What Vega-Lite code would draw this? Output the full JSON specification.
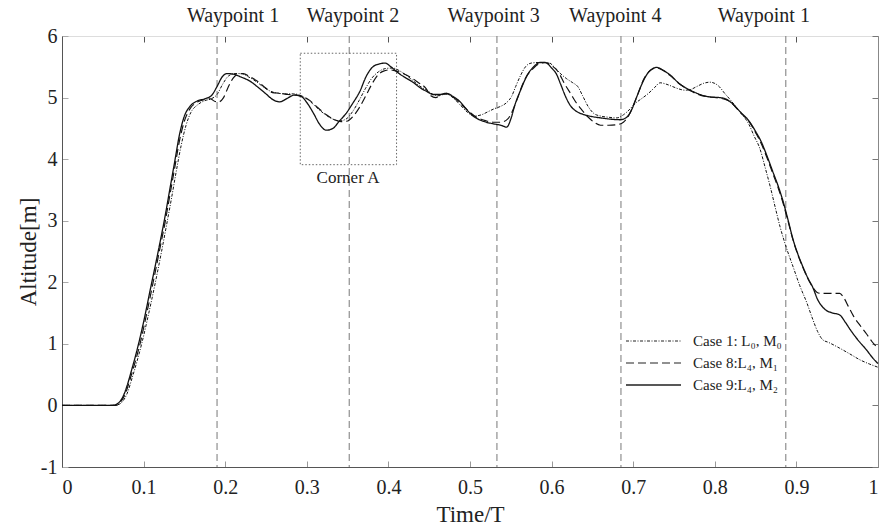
{
  "$schema": "https://vega.github.io/schema/vega-lite/v6.json",
  "width": 816,
  "height": 431,
  "autosize": {"type": "none"},
  "padding": {"left": 62, "top": 36, "right": 3, "bottom": 62},
  "background": "white",
  "config": {
    "view": {"stroke": null},
    "font": "Liberation Serif",
    "axis": {"labelFont": "Liberation Serif", "titleFont": "Liberation Serif", "grid": false}
  },
  "datasets": {
    "curves": [
      {"t":0,"alt":0,"case":"Case 9:L₄, M₂"},{"t":0.03,"alt":0,"case":"Case 9:L₄, M₂"},{"t":0.06,"alt":0,"case":"Case 9:L₄, M₂"},{"t":0.065,"alt":0.01,"case":"Case 9:L₄, M₂"},{"t":0.07,"alt":0.05,"case":"Case 9:L₄, M₂"},{"t":0.075,"alt":0.15,"case":"Case 9:L₄, M₂"},{"t":0.08,"alt":0.33,"case":"Case 9:L₄, M₂"},{"t":0.085,"alt":0.56,"case":"Case 9:L₄, M₂"},{"t":0.09,"alt":0.8,"case":"Case 9:L₄, M₂"},{"t":0.096,"alt":1.12,"case":"Case 9:L₄, M₂"},{"t":0.102,"alt":1.48,"case":"Case 9:L₄, M₂"},{"t":0.108,"alt":1.87,"case":"Case 9:L₄, M₂"},{"t":0.114,"alt":2.25,"case":"Case 9:L₄, M₂"},{"t":0.12,"alt":2.64,"case":"Case 9:L₄, M₂"},{"t":0.126,"alt":3.05,"case":"Case 9:L₄, M₂"},{"t":0.132,"alt":3.5,"case":"Case 9:L₄, M₂"},{"t":0.138,"alt":3.95,"case":"Case 9:L₄, M₂"},{"t":0.144,"alt":4.4,"case":"Case 9:L₄, M₂"},{"t":0.15,"alt":4.7,"case":"Case 9:L₄, M₂"},{"t":0.157,"alt":4.86,"case":"Case 9:L₄, M₂"},{"t":0.165,"alt":4.94,"case":"Case 9:L₄, M₂"},{"t":0.175,"alt":4.98,"case":"Case 9:L₄, M₂"},{"t":0.183,"alt":5.03,"case":"Case 9:L₄, M₂"},{"t":0.19,"alt":5.18,"case":"Case 9:L₄, M₂"},{"t":0.196,"alt":5.33,"case":"Case 9:L₄, M₂"},{"t":0.202,"alt":5.39,"case":"Case 9:L₄, M₂"},{"t":0.21,"alt":5.38,"case":"Case 9:L₄, M₂"},{"t":0.22,"alt":5.33,"case":"Case 9:L₄, M₂"},{"t":0.23,"alt":5.27,"case":"Case 9:L₄, M₂"},{"t":0.24,"alt":5.17,"case":"Case 9:L₄, M₂"},{"t":0.25,"alt":5.06,"case":"Case 9:L₄, M₂"},{"t":0.258,"alt":4.97,"case":"Case 9:L₄, M₂"},{"t":0.267,"alt":4.93,"case":"Case 9:L₄, M₂"},{"t":0.275,"alt":4.98,"case":"Case 9:L₄, M₂"},{"t":0.285,"alt":5.04,"case":"Case 9:L₄, M₂"},{"t":0.293,"alt":5.02,"case":"Case 9:L₄, M₂"},{"t":0.3,"alt":4.92,"case":"Case 9:L₄, M₂"},{"t":0.308,"alt":4.75,"case":"Case 9:L₄, M₂"},{"t":0.316,"alt":4.56,"case":"Case 9:L₄, M₂"},{"t":0.324,"alt":4.47,"case":"Case 9:L₄, M₂"},{"t":0.332,"alt":4.5,"case":"Case 9:L₄, M₂"},{"t":0.34,"alt":4.62,"case":"Case 9:L₄, M₂"},{"t":0.348,"alt":4.74,"case":"Case 9:L₄, M₂"},{"t":0.356,"alt":4.9,"case":"Case 9:L₄, M₂"},{"t":0.365,"alt":5.1,"case":"Case 9:L₄, M₂"},{"t":0.373,"alt":5.35,"case":"Case 9:L₄, M₂"},{"t":0.381,"alt":5.5,"case":"Case 9:L₄, M₂"},{"t":0.39,"alt":5.55,"case":"Case 9:L₄, M₂"},{"t":0.396,"alt":5.56,"case":"Case 9:L₄, M₂"},{"t":0.403,"alt":5.5,"case":"Case 9:L₄, M₂"},{"t":0.412,"alt":5.4,"case":"Case 9:L₄, M₂"},{"t":0.42,"alt":5.33,"case":"Case 9:L₄, M₂"},{"t":0.43,"alt":5.25,"case":"Case 9:L₄, M₂"},{"t":0.44,"alt":5.15,"case":"Case 9:L₄, M₂"},{"t":0.447,"alt":5.1,"case":"Case 9:L₄, M₂"},{"t":0.455,"alt":5.05,"case":"Case 9:L₄, M₂"},{"t":0.463,"alt":5.05,"case":"Case 9:L₄, M₂"},{"t":0.471,"alt":5.07,"case":"Case 9:L₄, M₂"},{"t":0.479,"alt":5.02,"case":"Case 9:L₄, M₂"},{"t":0.488,"alt":4.93,"case":"Case 9:L₄, M₂"},{"t":0.495,"alt":4.82,"case":"Case 9:L₄, M₂"},{"t":0.502,"alt":4.72,"case":"Case 9:L₄, M₂"},{"t":0.51,"alt":4.65,"case":"Case 9:L₄, M₂"},{"t":0.52,"alt":4.6,"case":"Case 9:L₄, M₂"},{"t":0.53,"alt":4.57,"case":"Case 9:L₄, M₂"},{"t":0.538,"alt":4.55,"case":"Case 9:L₄, M₂"},{"t":0.545,"alt":4.52,"case":"Case 9:L₄, M₂"},{"t":0.55,"alt":4.65,"case":"Case 9:L₄, M₂"},{"t":0.555,"alt":4.88,"case":"Case 9:L₄, M₂"},{"t":0.562,"alt":5.12,"case":"Case 9:L₄, M₂"},{"t":0.57,"alt":5.36,"case":"Case 9:L₄, M₂"},{"t":0.578,"alt":5.5,"case":"Case 9:L₄, M₂"},{"t":0.586,"alt":5.57,"case":"Case 9:L₄, M₂"},{"t":0.592,"alt":5.57,"case":"Case 9:L₄, M₂"},{"t":0.6,"alt":5.48,"case":"Case 9:L₄, M₂"},{"t":0.606,"alt":5.38,"case":"Case 9:L₄, M₂"},{"t":0.611,"alt":5.22,"case":"Case 9:L₄, M₂"},{"t":0.617,"alt":5.02,"case":"Case 9:L₄, M₂"},{"t":0.623,"alt":4.87,"case":"Case 9:L₄, M₂"},{"t":0.63,"alt":4.78,"case":"Case 9:L₄, M₂"},{"t":0.638,"alt":4.73,"case":"Case 9:L₄, M₂"},{"t":0.65,"alt":4.69,"case":"Case 9:L₄, M₂"},{"t":0.66,"alt":4.67,"case":"Case 9:L₄, M₂"},{"t":0.672,"alt":4.65,"case":"Case 9:L₄, M₂"},{"t":0.684,"alt":4.64,"case":"Case 9:L₄, M₂"},{"t":0.692,"alt":4.68,"case":"Case 9:L₄, M₂"},{"t":0.698,"alt":4.8,"case":"Case 9:L₄, M₂"},{"t":0.704,"alt":5.0,"case":"Case 9:L₄, M₂"},{"t":0.71,"alt":5.2,"case":"Case 9:L₄, M₂"},{"t":0.716,"alt":5.36,"case":"Case 9:L₄, M₂"},{"t":0.724,"alt":5.47,"case":"Case 9:L₄, M₂"},{"t":0.729,"alt":5.49,"case":"Case 9:L₄, M₂"},{"t":0.737,"alt":5.44,"case":"Case 9:L₄, M₂"},{"t":0.745,"alt":5.37,"case":"Case 9:L₄, M₂"},{"t":0.757,"alt":5.22,"case":"Case 9:L₄, M₂"},{"t":0.77,"alt":5.12,"case":"Case 9:L₄, M₂"},{"t":0.782,"alt":5.05,"case":"Case 9:L₄, M₂"},{"t":0.794,"alt":5.01,"case":"Case 9:L₄, M₂"},{"t":0.806,"alt":5.0,"case":"Case 9:L₄, M₂"},{"t":0.813,"alt":4.98,"case":"Case 9:L₄, M₂"},{"t":0.819,"alt":4.93,"case":"Case 9:L₄, M₂"},{"t":0.831,"alt":4.77,"case":"Case 9:L₄, M₂"},{"t":0.843,"alt":4.6,"case":"Case 9:L₄, M₂"},{"t":0.85,"alt":4.45,"case":"Case 9:L₄, M₂"},{"t":0.857,"alt":4.28,"case":"Case 9:L₄, M₂"},{"t":0.864,"alt":4.05,"case":"Case 9:L₄, M₂"},{"t":0.871,"alt":3.8,"case":"Case 9:L₄, M₂"},{"t":0.878,"alt":3.55,"case":"Case 9:L₄, M₂"},{"t":0.884,"alt":3.3,"case":"Case 9:L₄, M₂"},{"t":0.89,"alt":3.0,"case":"Case 9:L₄, M₂"},{"t":0.896,"alt":2.69,"case":"Case 9:L₄, M₂"},{"t":0.902,"alt":2.45,"case":"Case 9:L₄, M₂"},{"t":0.908,"alt":2.25,"case":"Case 9:L₄, M₂"},{"t":0.914,"alt":2.07,"case":"Case 9:L₄, M₂"},{"t":0.92,"alt":1.92,"case":"Case 9:L₄, M₂"},{"t":0.926,"alt":1.72,"case":"Case 9:L₄, M₂"},{"t":0.932,"alt":1.6,"case":"Case 9:L₄, M₂"},{"t":0.937,"alt":1.54,"case":"Case 9:L₄, M₂"},{"t":0.945,"alt":1.5,"case":"Case 9:L₄, M₂"},{"t":0.953,"alt":1.47,"case":"Case 9:L₄, M₂"},{"t":0.96,"alt":1.35,"case":"Case 9:L₄, M₂"},{"t":0.966,"alt":1.23,"case":"Case 9:L₄, M₂"},{"t":0.975,"alt":1.07,"case":"Case 9:L₄, M₂"},{"t":0.986,"alt":0.9,"case":"Case 9:L₄, M₂"},{"t":0.993,"alt":0.78,"case":"Case 9:L₄, M₂"},{"t":1.0,"alt":0.68,"case":"Case 9:L₄, M₂"},

      {"t":0,"alt":0,"case":"Case 8:L₄, M₁"},{"t":0.06,"alt":0,"case":"Case 8:L₄, M₁"},{"t":0.066,"alt":0,"case":"Case 8:L₄, M₁"},{"t":0.072,"alt":0.06,"case":"Case 8:L₄, M₁"},{"t":0.078,"alt":0.2,"case":"Case 8:L₄, M₁"},{"t":0.084,"alt":0.45,"case":"Case 8:L₄, M₁"},{"t":0.09,"alt":0.72,"case":"Case 8:L₄, M₁"},{"t":0.096,"alt":1.02,"case":"Case 8:L₄, M₁"},{"t":0.102,"alt":1.38,"case":"Case 8:L₄, M₁"},{"t":0.108,"alt":1.76,"case":"Case 8:L₄, M₁"},{"t":0.114,"alt":2.15,"case":"Case 8:L₄, M₁"},{"t":0.12,"alt":2.55,"case":"Case 8:L₄, M₁"},{"t":0.126,"alt":2.95,"case":"Case 8:L₄, M₁"},{"t":0.132,"alt":3.4,"case":"Case 8:L₄, M₁"},{"t":0.138,"alt":3.85,"case":"Case 8:L₄, M₁"},{"t":0.144,"alt":4.3,"case":"Case 8:L₄, M₁"},{"t":0.15,"alt":4.62,"case":"Case 8:L₄, M₁"},{"t":0.157,"alt":4.82,"case":"Case 8:L₄, M₁"},{"t":0.165,"alt":4.92,"case":"Case 8:L₄, M₁"},{"t":0.175,"alt":4.97,"case":"Case 8:L₄, M₁"},{"t":0.182,"alt":4.98,"case":"Case 8:L₄, M₁"},{"t":0.187,"alt":4.94,"case":"Case 8:L₄, M₁"},{"t":0.192,"alt":4.93,"case":"Case 8:L₄, M₁"},{"t":0.198,"alt":5.0,"case":"Case 8:L₄, M₁"},{"t":0.204,"alt":5.18,"case":"Case 8:L₄, M₁"},{"t":0.21,"alt":5.32,"case":"Case 8:L₄, M₁"},{"t":0.216,"alt":5.38,"case":"Case 8:L₄, M₁"},{"t":0.222,"alt":5.39,"case":"Case 8:L₄, M₁"},{"t":0.23,"alt":5.34,"case":"Case 8:L₄, M₁"},{"t":0.24,"alt":5.26,"case":"Case 8:L₄, M₁"},{"t":0.25,"alt":5.15,"case":"Case 8:L₄, M₁"},{"t":0.258,"alt":5.08,"case":"Case 8:L₄, M₁"},{"t":0.267,"alt":5.07,"case":"Case 8:L₄, M₁"},{"t":0.277,"alt":5.05,"case":"Case 8:L₄, M₁"},{"t":0.287,"alt":5.04,"case":"Case 8:L₄, M₁"},{"t":0.295,"alt":5.02,"case":"Case 8:L₄, M₁"},{"t":0.304,"alt":4.95,"case":"Case 8:L₄, M₁"},{"t":0.314,"alt":4.83,"case":"Case 8:L₄, M₁"},{"t":0.324,"alt":4.72,"case":"Case 8:L₄, M₁"},{"t":0.334,"alt":4.64,"case":"Case 8:L₄, M₁"},{"t":0.342,"alt":4.61,"case":"Case 8:L₄, M₁"},{"t":0.35,"alt":4.62,"case":"Case 8:L₄, M₁"},{"t":0.357,"alt":4.7,"case":"Case 8:L₄, M₁"},{"t":0.365,"alt":4.85,"case":"Case 8:L₄, M₁"},{"t":0.372,"alt":5.02,"case":"Case 8:L₄, M₁"},{"t":0.379,"alt":5.2,"case":"Case 8:L₄, M₁"},{"t":0.386,"alt":5.35,"case":"Case 8:L₄, M₁"},{"t":0.394,"alt":5.43,"case":"Case 8:L₄, M₁"},{"t":0.402,"alt":5.45,"case":"Case 8:L₄, M₁"},{"t":0.41,"alt":5.43,"case":"Case 8:L₄, M₁"},{"t":0.418,"alt":5.39,"case":"Case 8:L₄, M₁"},{"t":0.426,"alt":5.34,"case":"Case 8:L₄, M₁"},{"t":0.436,"alt":5.25,"case":"Case 8:L₄, M₁"},{"t":0.446,"alt":5.15,"case":"Case 8:L₄, M₁"},{"t":0.452,"alt":5.03,"case":"Case 8:L₄, M₁"},{"t":0.458,"alt":5.0,"case":"Case 8:L₄, M₁"},{"t":0.465,"alt":5.05,"case":"Case 8:L₄, M₁"},{"t":0.472,"alt":5.06,"case":"Case 8:L₄, M₁"},{"t":0.48,"alt":5.0,"case":"Case 8:L₄, M₁"},{"t":0.49,"alt":4.88,"case":"Case 8:L₄, M₁"},{"t":0.5,"alt":4.76,"case":"Case 8:L₄, M₁"},{"t":0.508,"alt":4.68,"case":"Case 8:L₄, M₁"},{"t":0.518,"alt":4.63,"case":"Case 8:L₄, M₁"},{"t":0.528,"alt":4.6,"case":"Case 8:L₄, M₁"},{"t":0.538,"alt":4.6,"case":"Case 8:L₄, M₁"},{"t":0.546,"alt":4.65,"case":"Case 8:L₄, M₁"},{"t":0.552,"alt":4.78,"case":"Case 8:L₄, M₁"},{"t":0.558,"alt":4.98,"case":"Case 8:L₄, M₁"},{"t":0.564,"alt":5.2,"case":"Case 8:L₄, M₁"},{"t":0.571,"alt":5.38,"case":"Case 8:L₄, M₁"},{"t":0.578,"alt":5.48,"case":"Case 8:L₄, M₁"},{"t":0.585,"alt":5.55,"case":"Case 8:L₄, M₁"},{"t":0.592,"alt":5.57,"case":"Case 8:L₄, M₁"},{"t":0.6,"alt":5.52,"case":"Case 8:L₄, M₁"},{"t":0.608,"alt":5.42,"case":"Case 8:L₄, M₁"},{"t":0.616,"alt":5.22,"case":"Case 8:L₄, M₁"},{"t":0.624,"alt":5.05,"case":"Case 8:L₄, M₁"},{"t":0.63,"alt":4.92,"case":"Case 8:L₄, M₁"},{"t":0.637,"alt":4.8,"case":"Case 8:L₄, M₁"},{"t":0.645,"alt":4.68,"case":"Case 8:L₄, M₁"},{"t":0.652,"alt":4.6,"case":"Case 8:L₄, M₁"},{"t":0.66,"alt":4.55,"case":"Case 8:L₄, M₁"},{"t":0.67,"alt":4.55,"case":"Case 8:L₄, M₁"},{"t":0.68,"alt":4.56,"case":"Case 8:L₄, M₁"},{"t":0.688,"alt":4.6,"case":"Case 8:L₄, M₁"},{"t":0.695,"alt":4.72,"case":"Case 8:L₄, M₁"},{"t":0.701,"alt":4.9,"case":"Case 8:L₄, M₁"},{"t":0.707,"alt":5.1,"case":"Case 8:L₄, M₁"},{"t":0.713,"alt":5.3,"case":"Case 8:L₄, M₁"},{"t":0.72,"alt":5.43,"case":"Case 8:L₄, M₁"},{"t":0.728,"alt":5.48,"case":"Case 8:L₄, M₁"},{"t":0.737,"alt":5.44,"case":"Case 8:L₄, M₁"},{"t":0.745,"alt":5.36,"case":"Case 8:L₄, M₁"},{"t":0.757,"alt":5.22,"case":"Case 8:L₄, M₁"},{"t":0.77,"alt":5.11,"case":"Case 8:L₄, M₁"},{"t":0.782,"alt":5.04,"case":"Case 8:L₄, M₁"},{"t":0.794,"alt":5.01,"case":"Case 8:L₄, M₁"},{"t":0.806,"alt":4.99,"case":"Case 8:L₄, M₁"},{"t":0.813,"alt":4.97,"case":"Case 8:L₄, M₁"},{"t":0.82,"alt":4.92,"case":"Case 8:L₄, M₁"},{"t":0.831,"alt":4.76,"case":"Case 8:L₄, M₁"},{"t":0.843,"alt":4.59,"case":"Case 8:L₄, M₁"},{"t":0.85,"alt":4.43,"case":"Case 8:L₄, M₁"},{"t":0.857,"alt":4.25,"case":"Case 8:L₄, M₁"},{"t":0.864,"alt":4.02,"case":"Case 8:L₄, M₁"},{"t":0.871,"alt":3.77,"case":"Case 8:L₄, M₁"},{"t":0.878,"alt":3.52,"case":"Case 8:L₄, M₁"},{"t":0.884,"alt":3.27,"case":"Case 8:L₄, M₁"},{"t":0.89,"alt":2.98,"case":"Case 8:L₄, M₁"},{"t":0.896,"alt":2.68,"case":"Case 8:L₄, M₁"},{"t":0.902,"alt":2.44,"case":"Case 8:L₄, M₁"},{"t":0.908,"alt":2.24,"case":"Case 8:L₄, M₁"},{"t":0.914,"alt":2.06,"case":"Case 8:L₄, M₁"},{"t":0.92,"alt":1.92,"case":"Case 8:L₄, M₁"},{"t":0.925,"alt":1.84,"case":"Case 8:L₄, M₁"},{"t":0.93,"alt":1.82,"case":"Case 8:L₄, M₁"},{"t":0.94,"alt":1.82,"case":"Case 8:L₄, M₁"},{"t":0.953,"alt":1.82,"case":"Case 8:L₄, M₁"},{"t":0.958,"alt":1.75,"case":"Case 8:L₄, M₁"},{"t":0.964,"alt":1.6,"case":"Case 8:L₄, M₁"},{"t":0.97,"alt":1.45,"case":"Case 8:L₄, M₁"},{"t":0.978,"alt":1.3,"case":"Case 8:L₄, M₁"},{"t":0.986,"alt":1.16,"case":"Case 8:L₄, M₁"},{"t":0.993,"alt":1.03,"case":"Case 8:L₄, M₁"},{"t":1.0,"alt":0.93,"case":"Case 8:L₄, M₁"},

      {"t":0,"alt":0,"case":"Case 1: L₀, M₀"},{"t":0.06,"alt":0,"case":"Case 1: L₀, M₀"},{"t":0.068,"alt":0.01,"case":"Case 1: L₀, M₀"},{"t":0.074,"alt":0.06,"case":"Case 1: L₀, M₀"},{"t":0.08,"alt":0.2,"case":"Case 1: L₀, M₀"},{"t":0.086,"alt":0.45,"case":"Case 1: L₀, M₀"},{"t":0.092,"alt":0.72,"case":"Case 1: L₀, M₀"},{"t":0.098,"alt":1.02,"case":"Case 1: L₀, M₀"},{"t":0.104,"alt":1.36,"case":"Case 1: L₀, M₀"},{"t":0.11,"alt":1.72,"case":"Case 1: L₀, M₀"},{"t":0.116,"alt":2.1,"case":"Case 1: L₀, M₀"},{"t":0.122,"alt":2.5,"case":"Case 1: L₀, M₀"},{"t":0.128,"alt":2.92,"case":"Case 1: L₀, M₀"},{"t":0.134,"alt":3.35,"case":"Case 1: L₀, M₀"},{"t":0.14,"alt":3.8,"case":"Case 1: L₀, M₀"},{"t":0.146,"alt":4.22,"case":"Case 1: L₀, M₀"},{"t":0.152,"alt":4.55,"case":"Case 1: L₀, M₀"},{"t":0.158,"alt":4.76,"case":"Case 1: L₀, M₀"},{"t":0.166,"alt":4.88,"case":"Case 1: L₀, M₀"},{"t":0.175,"alt":4.95,"case":"Case 1: L₀, M₀"},{"t":0.183,"alt":4.98,"case":"Case 1: L₀, M₀"},{"t":0.19,"alt":5.05,"case":"Case 1: L₀, M₀"},{"t":0.197,"alt":5.22,"case":"Case 1: L₀, M₀"},{"t":0.204,"alt":5.35,"case":"Case 1: L₀, M₀"},{"t":0.212,"alt":5.39,"case":"Case 1: L₀, M₀"},{"t":0.22,"alt":5.39,"case":"Case 1: L₀, M₀"},{"t":0.228,"alt":5.34,"case":"Case 1: L₀, M₀"},{"t":0.238,"alt":5.26,"case":"Case 1: L₀, M₀"},{"t":0.248,"alt":5.16,"case":"Case 1: L₀, M₀"},{"t":0.256,"alt":5.1,"case":"Case 1: L₀, M₀"},{"t":0.265,"alt":5.07,"case":"Case 1: L₀, M₀"},{"t":0.275,"alt":5.06,"case":"Case 1: L₀, M₀"},{"t":0.284,"alt":5.06,"case":"Case 1: L₀, M₀"},{"t":0.293,"alt":5.03,"case":"Case 1: L₀, M₀"},{"t":0.302,"alt":4.96,"case":"Case 1: L₀, M₀"},{"t":0.312,"alt":4.84,"case":"Case 1: L₀, M₀"},{"t":0.322,"alt":4.73,"case":"Case 1: L₀, M₀"},{"t":0.332,"alt":4.65,"case":"Case 1: L₀, M₀"},{"t":0.34,"alt":4.62,"case":"Case 1: L₀, M₀"},{"t":0.348,"alt":4.65,"case":"Case 1: L₀, M₀"},{"t":0.356,"alt":4.77,"case":"Case 1: L₀, M₀"},{"t":0.364,"alt":4.95,"case":"Case 1: L₀, M₀"},{"t":0.372,"alt":5.15,"case":"Case 1: L₀, M₀"},{"t":0.38,"alt":5.32,"case":"Case 1: L₀, M₀"},{"t":0.388,"alt":5.42,"case":"Case 1: L₀, M₀"},{"t":0.396,"alt":5.47,"case":"Case 1: L₀, M₀"},{"t":0.405,"alt":5.48,"case":"Case 1: L₀, M₀"},{"t":0.413,"alt":5.44,"case":"Case 1: L₀, M₀"},{"t":0.42,"alt":5.38,"case":"Case 1: L₀, M₀"},{"t":0.428,"alt":5.3,"case":"Case 1: L₀, M₀"},{"t":0.437,"alt":5.2,"case":"Case 1: L₀, M₀"},{"t":0.447,"alt":5.12,"case":"Case 1: L₀, M₀"},{"t":0.455,"alt":5.05,"case":"Case 1: L₀, M₀"},{"t":0.462,"alt":5.03,"case":"Case 1: L₀, M₀"},{"t":0.47,"alt":5.06,"case":"Case 1: L₀, M₀"},{"t":0.478,"alt":5.01,"case":"Case 1: L₀, M₀"},{"t":0.488,"alt":4.88,"case":"Case 1: L₀, M₀"},{"t":0.497,"alt":4.76,"case":"Case 1: L₀, M₀"},{"t":0.505,"alt":4.7,"case":"Case 1: L₀, M₀"},{"t":0.514,"alt":4.72,"case":"Case 1: L₀, M₀"},{"t":0.522,"alt":4.77,"case":"Case 1: L₀, M₀"},{"t":0.53,"alt":4.82,"case":"Case 1: L₀, M₀"},{"t":0.538,"alt":4.86,"case":"Case 1: L₀, M₀"},{"t":0.545,"alt":4.92,"case":"Case 1: L₀, M₀"},{"t":0.551,"alt":5.02,"case":"Case 1: L₀, M₀"},{"t":0.556,"alt":5.18,"case":"Case 1: L₀, M₀"},{"t":0.562,"alt":5.36,"case":"Case 1: L₀, M₀"},{"t":0.568,"alt":5.5,"case":"Case 1: L₀, M₀"},{"t":0.575,"alt":5.56,"case":"Case 1: L₀, M₀"},{"t":0.585,"alt":5.57,"case":"Case 1: L₀, M₀"},{"t":0.596,"alt":5.57,"case":"Case 1: L₀, M₀"},{"t":0.603,"alt":5.5,"case":"Case 1: L₀, M₀"},{"t":0.61,"alt":5.4,"case":"Case 1: L₀, M₀"},{"t":0.618,"alt":5.31,"case":"Case 1: L₀, M₀"},{"t":0.626,"alt":5.24,"case":"Case 1: L₀, M₀"},{"t":0.632,"alt":5.18,"case":"Case 1: L₀, M₀"},{"t":0.638,"alt":5.03,"case":"Case 1: L₀, M₀"},{"t":0.645,"alt":4.85,"case":"Case 1: L₀, M₀"},{"t":0.652,"alt":4.74,"case":"Case 1: L₀, M₀"},{"t":0.66,"alt":4.7,"case":"Case 1: L₀, M₀"},{"t":0.67,"alt":4.68,"case":"Case 1: L₀, M₀"},{"t":0.68,"alt":4.67,"case":"Case 1: L₀, M₀"},{"t":0.688,"alt":4.72,"case":"Case 1: L₀, M₀"},{"t":0.695,"alt":4.8,"case":"Case 1: L₀, M₀"},{"t":0.702,"alt":4.9,"case":"Case 1: L₀, M₀"},{"t":0.71,"alt":4.98,"case":"Case 1: L₀, M₀"},{"t":0.718,"alt":5.06,"case":"Case 1: L₀, M₀"},{"t":0.726,"alt":5.16,"case":"Case 1: L₀, M₀"},{"t":0.733,"alt":5.24,"case":"Case 1: L₀, M₀"},{"t":0.74,"alt":5.22,"case":"Case 1: L₀, M₀"},{"t":0.748,"alt":5.18,"case":"Case 1: L₀, M₀"},{"t":0.756,"alt":5.14,"case":"Case 1: L₀, M₀"},{"t":0.763,"alt":5.12,"case":"Case 1: L₀, M₀"},{"t":0.77,"alt":5.13,"case":"Case 1: L₀, M₀"},{"t":0.778,"alt":5.18,"case":"Case 1: L₀, M₀"},{"t":0.786,"alt":5.23,"case":"Case 1: L₀, M₀"},{"t":0.794,"alt":5.25,"case":"Case 1: L₀, M₀"},{"t":0.8,"alt":5.23,"case":"Case 1: L₀, M₀"},{"t":0.806,"alt":5.17,"case":"Case 1: L₀, M₀"},{"t":0.812,"alt":5.07,"case":"Case 1: L₀, M₀"},{"t":0.818,"alt":4.98,"case":"Case 1: L₀, M₀"},{"t":0.826,"alt":4.85,"case":"Case 1: L₀, M₀"},{"t":0.834,"alt":4.72,"case":"Case 1: L₀, M₀"},{"t":0.842,"alt":4.56,"case":"Case 1: L₀, M₀"},{"t":0.848,"alt":4.38,"case":"Case 1: L₀, M₀"},{"t":0.855,"alt":4.18,"case":"Case 1: L₀, M₀"},{"t":0.862,"alt":3.85,"case":"Case 1: L₀, M₀"},{"t":0.868,"alt":3.55,"case":"Case 1: L₀, M₀"},{"t":0.874,"alt":3.22,"case":"Case 1: L₀, M₀"},{"t":0.88,"alt":2.9,"case":"Case 1: L₀, M₀"},{"t":0.888,"alt":2.55,"case":"Case 1: L₀, M₀"},{"t":0.896,"alt":2.25,"case":"Case 1: L₀, M₀"},{"t":0.904,"alt":1.95,"case":"Case 1: L₀, M₀"},{"t":0.913,"alt":1.66,"case":"Case 1: L₀, M₀"},{"t":0.92,"alt":1.4,"case":"Case 1: L₀, M₀"},{"t":0.926,"alt":1.2,"case":"Case 1: L₀, M₀"},{"t":0.932,"alt":1.07,"case":"Case 1: L₀, M₀"},{"t":0.94,"alt":1.02,"case":"Case 1: L₀, M₀"},{"t":0.953,"alt":0.93,"case":"Case 1: L₀, M₀"},{"t":0.965,"alt":0.84,"case":"Case 1: L₀, M₀"},{"t":0.978,"alt":0.74,"case":"Case 1: L₀, M₀"},{"t":0.99,"alt":0.67,"case":"Case 1: L₀, M₀"},{"t":1.0,"alt":0.62,"case":"Case 1: L₀, M₀"}
    ],
    "waypoints": [
      {"line_t": 0.19, "label_t": 0.2096, "name": "Waypoint 1"},
      {"line_t": 0.352, "label_t": 0.3566, "name": "Waypoint 2"},
      {"line_t": 0.533, "label_t": 0.529, "name": "Waypoint 3"},
      {"line_t": 0.685, "label_t": 0.678, "name": "Waypoint 4"},
      {"line_t": 0.887, "label_t": 0.860, "name": "Waypoint 1"}
    ],
    "corner": [
      {"x1": 0.292, "x2": 0.41, "y1": 3.91, "y2": 5.72, "xm": 0.3505, "label": "Corner A"}
    ]
  },
  "resolve": {"axis": {"x": "independent", "y": "independent"}},
  "layer": [
    {
      "data": {"name": "waypoints"},
      "mark": {"type": "rule", "color": "#858585", "strokeDash": [7, 4], "strokeWidth": 1.1},
      "encoding": {
        "x": {"field": "line_t", "type": "quantitative", "scale": {"domain": [0, 1], "nice": false, "zero": false}, "axis": null}
      }
    },
    {
      "data": {"name": "corner"},
      "mark": {"type": "rect", "fill": null, "fillOpacity": 0, "stroke": "#666", "strokeDash": [1.5, 2], "strokeWidth": 1},
      "encoding": {
        "x": {"field": "x1", "type": "quantitative", "scale": {"domain": [0, 1], "nice": false, "zero": false},
              "axis": {"orient": "top", "title": null, "labels": false, "values": [0, 0.1, 0.2, 0.3, 0.4, 0.5, 0.6, 0.7, 0.8, 0.9, 1], "tickSize": -6, "tickColor": "#555", "domainColor": "#dddddd"}},
        "x2": {"field": "x2"},
        "y": {"field": "y1", "type": "quantitative", "scale": {"domain": [-1, 6], "nice": false, "zero": false},
              "axis": {"orient": "right", "title": null, "labels": false, "values": [-1, 0, 1, 2, 3, 4, 5, 6], "tickSize": -6, "tickColor": "#777", "domainColor": "#888"}},
        "y2": {"field": "y2"}
      }
    },
    {
      "data": {"name": "corner"},
      "mark": {"type": "text", "font": "Liberation Serif", "fontSize": 17, "color": "#222", "align": "center", "baseline": "alphabetic"},
      "encoding": {
        "x": {"field": "xm", "type": "quantitative", "axis": null},
        "y": {"datum": 3.61, "type": "quantitative", "axis": null},
        "text": {"field": "label"}
      }
    },
    {
      "data": {"name": "waypoints"},
      "mark": {"type": "text", "font": "Liberation Serif", "fontSize": 20, "color": "#222", "align": "center", "baseline": "alphabetic"},
      "encoding": {
        "x": {"field": "label_t", "type": "quantitative", "axis": null},
        "y": {"datum": 6.23, "type": "quantitative", "axis": null},
        "text": {"field": "name"}
      }
    },
    {
      "data": {"name": "curves"},
      "mark": {"type": "line", "color": "#111", "interpolate": "monotone"},
      "encoding": {
        "x": {"field": "t", "type": "quantitative", "scale": {"domain": [0, 1], "nice": false, "zero": false},
              "axis": {"title": "Time/T", "values": [0, 0.1, 0.2, 0.3, 0.4, 0.5, 0.6, 0.7, 0.8, 0.9, 1], "format": "~g",
                       "tickSize": -6, "tickColor": "#999", "domainColor": "#555", "labelFontSize": 20, "labelColor": "#222",
                       "labelPadding": 16, "titleFontSize": 23, "titleFontWeight": "normal", "titleColor": "#222", "titlePadding": 6}},
        "y": {"field": "alt", "type": "quantitative", "scale": {"domain": [-1, 6], "nice": false, "zero": false},
              "axis": {"title": "Altitude[m]", "values": [-1, 0, 1, 2, 3, 4, 5, 6], "labelExpr": "toString(datum.value)",
                       "tickSize": -6, "tickColor": "#aaa", "domainColor": "#555", "labelFontSize": 20, "labelColor": "#222",
                       "labelPadding": 11, "titleFontSize": 23, "titleFontWeight": "normal", "titleColor": "#222", "titlePadding": 0}},
        "detail": {"field": "case"},
        "strokeDash": {"field": "case", "type": "nominal",
                       "scale": {"domain": ["Case 1: L₀, M₀", "Case 8:L₄, M₁", "Case 9:L₄, M₂"], "range": [[3, 1.5, 1, 1.5], [8, 4], [1, 0]]},
                       "legend": {"title": null, "orient": "none", "legendX": 563, "legendY": 295, "padding": 0,
                                  "symbolType": "stroke", "symbolSize": 3025, "symbolStrokeColor": "#222", "symbolStrokeWidth": 1.4,
                                  "clipHeight": 20, "rowPadding": 2, "labelOffset": 11,
                                  "labelFont": "Liberation Serif", "labelFontSize": 15, "labelColor": "#222"}},
        "strokeWidth": {"field": "case", "type": "nominal",
                        "scale": {"domain": ["Case 1: L₀, M₀", "Case 8:L₄, M₁", "Case 9:L₄, M₂"], "range": [1, 1.3, 1.6]},
                        "legend": null}
      }
    }
  ]
}
